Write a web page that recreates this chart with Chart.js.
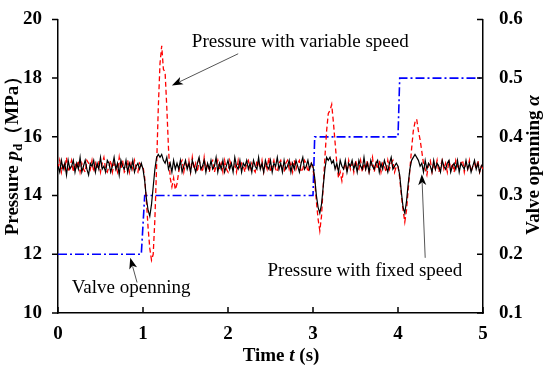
<!DOCTYPE html>
<html>
<head>
<meta charset="utf-8">
<script src="https://cdn.jsdelivr.net/npm/chart.js@4"></script>
<style>
  html, body { margin: 0; padding: 0; background: #fff; }
  #wrap { width: 550px; height: 373px; }
</style>
</head>
<body>
<div id="wrap"><canvas id="myChart" width="550" height="373"></canvas></div>
<script>
// sampling step of the recorded signals (s)
const dt = 0.02;

// pressure with fixed speed (MPa), one value per dt from t = 0 to 5 s
const pFixed = [
  15.0, 14.8, 15.2, 14.9, 15.1, 14.7, 15.2, 14.9, 15.0, 15.2,
  14.8, 15.1, 14.9, 15.3, 14.8, 15.0, 15.2, 14.9, 14.7, 15.1,
  15.0, 15.2, 14.8, 15.1, 14.9, 15.3, 14.9, 15.0, 14.8, 15.2,
  15.1, 14.8, 15.0, 15.3, 14.9, 15.1, 14.7, 15.2, 15.0, 14.9,
  15.2, 14.8, 15.1, 14.9, 15.2, 14.8, 15.0, 15.1, 14.9, 15.1,
  14.9, 14.5, 13.9, 13.5, 13.3, 13.7, 14.3, 14.9, 15.3, 15.4,
  15.3, 15.4, 15.2, 15.1, 15.3, 14.9, 15.1, 14.8, 15.2, 14.9,
  15.1, 14.9, 15.2, 14.8, 15.0, 15.2, 14.9, 15.1, 14.8, 15.2,
  15.0, 14.8, 15.1, 15.3, 14.9, 15.0, 15.2, 14.8, 15.1, 14.9,
  15.2, 14.9, 15.0, 15.3, 14.8, 15.1, 14.9, 15.2, 14.8, 15.0,
  15.2, 14.9, 15.1, 14.8, 15.3, 15.0, 14.9, 15.2, 14.8, 15.1,
  15.0, 15.2, 14.9, 15.1, 14.8, 15.2, 15.0, 14.9, 15.3, 14.9,
  15.1, 14.8, 15.2, 15.0, 14.9, 15.2, 14.8, 15.1, 15.0, 15.3,
  14.9, 15.1, 14.8, 15.2, 14.9, 15.0, 15.2, 14.8, 15.1, 14.9,
  15.2, 15.0, 14.8, 15.1, 15.3, 14.9, 15.0, 15.2, 14.9, 15.1,
  15.0, 14.6, 14.0, 13.6, 13.4, 13.7, 14.3, 14.9, 15.3, 15.2,
  15.3, 15.1, 15.2, 14.9, 15.1, 14.8, 15.2, 15.0, 14.9, 15.2,
  14.8, 15.1, 15.0, 15.2, 14.9, 15.1, 14.8, 15.2, 15.0, 14.9,
  15.3, 14.9, 15.1, 14.8, 15.2, 15.0, 14.9, 15.1, 15.2, 14.8,
  15.1, 14.9, 15.2, 15.0, 14.8, 15.1, 15.3, 14.9, 15.0, 15.1,
  15.0, 14.7, 14.1, 13.6, 13.4, 13.8, 14.4, 14.9, 15.2, 15.3,
  15.4, 15.3, 15.2, 15.0, 15.1, 14.8, 15.2, 14.9, 15.1, 15.0,
  14.8, 15.2, 14.9, 15.1, 15.0, 14.8, 15.2, 15.0, 14.9, 15.1,
  15.2, 14.8, 15.0, 15.1, 14.9, 15.2, 14.8, 15.1, 15.0, 14.9,
  15.2, 14.9, 15.1, 14.8, 15.0, 15.2, 14.9, 15.1, 14.8, 15.0,
  15.1
];

// pressure with variable speed (MPa)
const pVariable = [
  14.9, 15.2, 14.8, 15.1, 14.9, 15.3, 14.8, 15.0, 15.2, 14.8,
  15.1, 14.9, 15.2, 14.8, 15.1, 14.9, 14.8, 15.2, 15.1, 14.9,
  15.2, 14.8, 15.1, 14.9, 15.2, 14.8, 15.1, 15.3, 14.9, 14.8,
  15.0, 15.2, 14.8, 15.1, 15.0, 14.8, 15.3, 14.9, 15.2, 14.8,
  14.9, 15.2, 14.8, 15.1, 14.9, 15.2, 14.9, 14.8, 15.1, 15.0,
  15.0, 14.6, 13.8, 12.9, 12.2, 11.8, 12.0, 13.2, 15.0, 17.0,
  18.5, 19.1, 18.3, 18.2, 17.0, 15.6, 14.6, 14.3, 14.6, 14.2,
  14.4, 14.8, 15.1, 15.2, 14.8, 15.1, 14.9, 15.2, 14.8, 15.3,
  14.9, 15.1, 14.8, 15.2, 15.0, 14.8, 15.3, 14.9, 15.1, 14.8,
  15.1, 15.2, 14.8, 15.0, 15.2, 14.9, 15.1, 14.8, 15.2, 14.9,
  14.8, 15.2, 15.0, 14.9, 15.1, 14.8, 15.2, 14.9, 15.1, 15.0,
  14.8, 15.1, 15.2, 14.9, 15.1, 14.9, 14.8, 15.2, 15.1, 14.9,
  15.2, 14.8, 15.1, 14.9, 15.3, 14.8, 15.0, 15.2, 14.9, 14.8,
  15.1, 15.2, 14.9, 14.8, 15.1, 15.2, 14.9, 15.1, 14.8, 15.2,
  14.9, 15.1, 15.2, 14.8, 14.9, 15.2, 15.1, 14.8, 15.0, 15.1,
  14.9, 14.5, 13.8, 13.2, 12.8, 13.3, 14.3, 15.3, 16.2, 16.8,
  16.9, 17.1, 16.5, 15.8, 15.1, 14.6, 14.8, 14.5, 14.9, 15.1,
  14.8, 15.2, 14.9, 15.1, 14.8, 15.2, 15.0, 14.9, 15.2, 14.8,
  15.1, 14.9, 15.2, 14.8, 15.0, 15.3, 14.8, 15.1, 14.9, 15.2,
  14.8, 15.1, 15.0, 14.8, 15.2, 14.9, 15.1, 15.2, 14.8, 15.0,
  15.0, 14.6, 14.0, 13.5, 13.1, 13.5, 14.2, 14.9, 15.6, 16.2,
  16.5, 16.6, 16.2, 15.9, 15.5, 15.1, 14.9, 14.7, 15.1, 15.2,
  14.8, 15.1, 14.9, 15.2, 14.8, 15.0, 15.2, 14.9, 15.1, 14.8,
  15.2, 14.9, 15.1, 14.8, 15.2, 15.0, 14.9, 15.1, 15.2, 14.8,
  15.1, 14.9, 15.2, 14.8, 15.0, 15.1, 14.9, 15.2, 14.8, 15.0,
  14.9
];

// valve opening step command
const valveTime = [0, 0.98, 1.02, 3.0, 3.02, 4.0, 4.02, 5.0];
const valveOpen = [0.2, 0.2, 0.3, 0.3, 0.4, 0.4, 0.5, 0.5];

const pressureTicks = [10, 12, 14, 16, 18, 20];
const valveTicks = [0.1, 0.2, 0.3, 0.4, 0.5, 0.6];
const timeTicks = [0, 1, 2, 3, 4, 5];

function toPoints(vals) {
  return vals.map((v, i) => ({ x: i * dt, y: v }));
}

const serifB = 'bold 19px "Liberation Serif", "Times New Roman", serif';
const serifBI = 'bold italic 19px "Liberation Serif", "Times New Roman", serif';
const serif = '19px "Liberation Serif", "Times New Roman", serif';

// tick marks: left outward, bottom and right inward
const tickMarks = {
  id: 'tickMarks',
  afterDraw(chart) {
    const ctx = chart.ctx;
    const { x, y, y2 } = chart.scales;
    const a = chart.chartArea;
    ctx.save();
    ctx.strokeStyle = '#000';
    ctx.lineWidth = 1.5;
    ctx.beginPath();
    pressureTicks.forEach(v => {
      const py = y.getPixelForValue(v);
      ctx.moveTo(a.left - 6, py); ctx.lineTo(a.left, py);
    });
    timeTicks.forEach(v => {
      const px = x.getPixelForValue(v);
      ctx.moveTo(px, a.bottom); ctx.lineTo(px, a.bottom - 6);
    });
    valveTicks.forEach(v => {
      const py = y2.getPixelForValue(v);
      ctx.moveTo(a.right - 6, py); ctx.lineTo(a.right, py);
    });
    ctx.stroke();
    ctx.restore();
  }
};

function arrow(ctx, x0, y0, x1, y1) {
  const ang = Math.atan2(y1 - y0, x1 - x0);
  const len = 11, w = 4;
  ctx.strokeStyle = '#555';
  ctx.lineWidth = 1;
  ctx.beginPath();
  ctx.moveTo(x0, y0);
  ctx.lineTo(x1 - Math.cos(ang) * len * 0.8, y1 - Math.sin(ang) * len * 0.8);
  ctx.stroke();
  ctx.fillStyle = '#000';
  ctx.beginPath();
  ctx.moveTo(x1, y1);
  ctx.lineTo(x1 - Math.cos(ang) * len - Math.sin(ang) * w, y1 - Math.sin(ang) * len + Math.cos(ang) * w);
  ctx.lineTo(x1 - Math.cos(ang) * len * 0.75, y1 - Math.sin(ang) * len * 0.75);
  ctx.lineTo(x1 - Math.cos(ang) * len + Math.sin(ang) * w, y1 - Math.sin(ang) * len - Math.cos(ang) * w);
  ctx.closePath();
  ctx.fill();
}

// annotations and axis titles
const labels = {
  id: 'labels',
  afterDraw(chart) {
    const ctx = chart.ctx;
    const { x, y } = chart.scales;
    const X = v => x.getPixelForValue(v);
    const Y = v => y.getPixelForValue(v);
    ctx.save();
    ctx.fillStyle = '#000';
    ctx.textBaseline = 'middle';
    ctx.textAlign = 'center';
    ctx.font = serif;
    ctx.fillText('Pressure with variable speed', X(2.85), Y(19.23));
    ctx.fillText('Valve openning', X(0.86), Y(10.84));
    ctx.fillText('Pressure with fixed speed', X(3.61), Y(11.44));
    arrow(ctx, X(2.12), Y(18.83), X(1.34), Y(17.75));
    arrow(ctx, X(0.93), Y(11.04), X(0.85), Y(11.88));
    arrow(ctx, X(4.32), Y(11.88), X(4.28), Y(14.73));

    // x title: Time t (s)
    ctx.fillStyle = '#000';
    ctx.textAlign = 'left';
    ctx.textBaseline = 'alphabetic';
    const parts = [['Time ', serifB], ['t', serifBI], [' (s)', serifB]];
    let total = 0;
    parts.forEach(p => { ctx.font = p[1]; total += ctx.measureText(p[0]).width; });
    let cx = 281 - total / 2;
    parts.forEach(p => { ctx.font = p[1]; ctx.fillText(p[0], cx, 361); cx += ctx.measureText(p[0]).width; });

    // left title: Pressure p_d (MPa)
    ctx.save();
    ctx.translate(18, 151);
    ctx.rotate(-Math.PI / 2);
    const sub = 'bold 13px "Liberation Serif", "Times New Roman", serif';
    const lp = [['Pressure ', serifB, 0], ['p', serifBI, 0], ['d', sub, 4], ['（MPa）', serifB, 0]];
    total = 0;
    lp.forEach(p => { ctx.font = p[1]; total += ctx.measureText(p[0]).width; });
    cx = -total / 2;
    lp.forEach(p => { ctx.font = p[1]; ctx.fillText(p[0], cx, p[2]); cx += ctx.measureText(p[0]).width; });
    ctx.restore();

    // right title: Valve openning alpha
    ctx.save();
    ctx.translate(539, 165);
    ctx.rotate(-Math.PI / 2);
    const rp = [['Valve openning ', serifB], ['α', serifBI]];
    total = 0;
    rp.forEach(p => { ctx.font = p[1]; total += ctx.measureText(p[0]).width; });
    cx = -total / 2;
    rp.forEach(p => { ctx.font = p[1]; ctx.fillText(p[0], cx, 0); cx += ctx.measureText(p[0]).width; });
    ctx.restore();
    ctx.restore();
  }
};

const tickFont = { family: '"Liberation Serif", "Times New Roman", serif', size: 19, weight: 'bold' };

new Chart('myChart', {
  type: 'line',
  data: {
    datasets: [
      {
        label: 'Pressure with fixed speed',
        data: toPoints(pFixed),
        borderColor: '#000000',
        borderWidth: 1.2,
        pointRadius: 0,
        yAxisID: 'y',
        order: 0
      },
      {
        label: 'Pressure with variable speed',
        data: toPoints(pVariable),
        borderColor: '#ff0000',
        borderWidth: 1.3,
        borderDash: [5, 3],
        pointRadius: 0,
        yAxisID: 'y',
        order: 1
      },
      {
        label: 'Valve openning',
        data: valveTime.map((t, i) => ({ x: t, y: valveOpen[i] })),
        borderColor: '#0000ff',
        borderWidth: 1.6,
        borderDash: [9, 3, 2, 3],
        pointRadius: 0,
        yAxisID: 'y2',
        order: 2
      }
    ]
  },
  options: {
    responsive: false,
    animation: false,
    layout: { padding: { top: 15, left: 0, right: 0, bottom: 0 } },
    plugins: {
      legend: { display: false },
      tooltip: { enabled: false }
    },
    scales: {
      x: {
        type: 'linear',
        min: 0,
        max: 5,
        afterFit: s => { s.height = 60; },
        afterBuildTicks: s => { s.ticks = timeTicks.map(v => ({ value: v })); },
        grid: { display: false },
        border: { display: true, color: '#000', width: 1.5 },
        ticks: { color: '#000', font: tickFont, padding: 2, maxRotation: 0 }
      },
      y: {
        position: 'left',
        min: 10,
        max: 20,
        afterFit: s => { s.width = 58; },
        afterBuildTicks: s => { s.ticks = pressureTicks.map(v => ({ value: v })); },
        grid: { display: false },
        border: { display: true, color: '#000', width: 1.5 },
        ticks: { color: '#000', font: tickFont, padding: 8 }
      },
      y2: {
        position: 'right',
        min: 0.1,
        max: 0.6,
        afterFit: s => { s.width = 67; },
        afterBuildTicks: s => { s.ticks = valveTicks.map(v => ({ value: v })); },
        grid: { display: false },
        border: { display: true, color: '#000', width: 1.5 },
        ticks: { color: '#000', font: tickFont, padding: 8, callback: v => v.toFixed(1) }
      }
    }
  },
  plugins: [tickMarks, labels]
});
</script>
</body>
</html>
